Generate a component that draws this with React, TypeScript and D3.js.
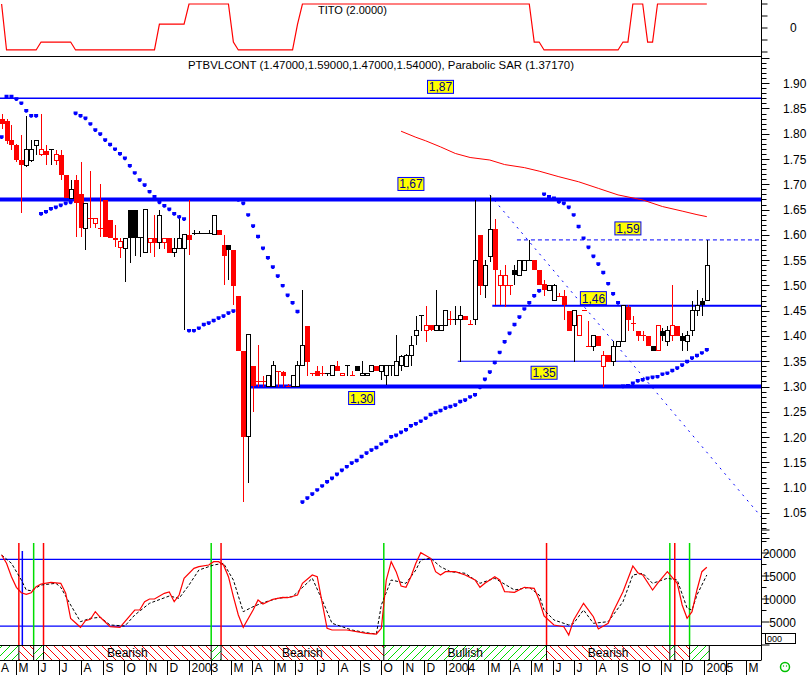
import React from "react";
import * as d3 from "d3";

// ---------------- DATA ----------------
const START = new Date(2002, 3, 10); // first weekly bar

// weekly OHLC [open, high, low, close]
const candles: [number, number, number, number][] = [
  [1.83,1.84,1.81,1.82],[1.825,1.83,1.78,1.786],[1.787,1.817,1.768,1.777],[1.777,1.78,1.745,1.748],[1.748,1.797,1.643,1.738],
  [1.737,1.835,1.735,1.768],[1.748,1.787,1.745,1.768],[1.777,1.787,1.758,1.787],[1.758,1.839,1.755,1.768],[1.766,1.777,1.738,1.758],
  [1.768,1.768,1.738,1.768],[1.748,1.768,1.738,1.758],[1.758,1.768,1.709,1.718],[1.718,1.718,1.672,1.672],[1.672,1.708,1.672,1.690],
  [1.708,1.718,1.596,1.663],[1.681,1.745,1.596,1.613],[1.613,1.663,1.570,1.663],[1.633,1.726,1.613,1.633],[1.623,1.633,1.613,1.633],
  [1.613,1.700,1.595,1.613],[1.669,1.669,1.595,1.595],[1.629,1.629,1.594,1.594],[1.594,1.62,1.575,1.59],[1.575,1.594,1.555,1.586],
  [1.573,1.593,1.507,1.593],[1.650,1.650,1.545,1.594],[1.650,1.650,1.558,1.594],[1.594,1.594,1.557,1.594],[1.565,1.650,1.565,1.650],
  [1.584,1.593,1.565,1.593],[1.593,1.639,1.557,1.584],[1.584,1.650,1.573,1.639],[1.584,1.593,1.573,1.593],[1.593,1.593,1.565,1.565],
  [1.565,1.593,1.557,1.573],[1.573,1.639,1.573,1.593],[1.573,1.600,1.412,1.600],[1.600,1.669,1.560,1.590],[1.603,1.610,1.600,1.603],
  [1.603,1.607,1.603,1.603],[1.603,1.603,1.603,1.603],[1.603,1.610,1.603,1.603],[1.600,1.639,1.600,1.639],[1.610,1.610,1.600,1.600],
  [1.580,1.600,1.501,1.558],[1.580,1.580,1.511,1.570],[1.570,1.570,1.461,1.499],[1.479,1.479,1.371,1.371],[1.371,1.371,1.072,1.201],
  [1.201,1.402,1.110,1.402],[1.341,1.341,1.250,1.301],[1.310,1.382,1.300,1.310],[1.310,1.320,1.300,1.310],[1.300,1.322,1.300,1.322],
  [1.300,1.350,1.300,1.341],[1.330,1.330,1.300,1.330],[1.329,1.330,1.300,1.321],[1.300,1.305,1.300,1.300],[1.300,1.321,1.300,1.321],
  [1.300,1.350,1.300,1.341],[1.341,1.491,1.341,1.381],[1.420,1.420,1.321,1.349],[1.326,1.326,1.321,1.326],[1.330,1.341,1.321,1.321],
  [1.326,1.341,1.321,1.326],[1.326,1.326,1.321,1.326],[1.321,1.341,1.321,1.341],[1.341,1.350,1.330,1.330],[1.321,1.326,1.321,1.326],
  [1.341,1.341,1.321,1.341],[1.321,1.330,1.321,1.321],[1.341,1.341,1.330,1.330],[1.321,1.350,1.321,1.326],[1.321,1.326,1.321,1.326],
  [1.330,1.341,1.330,1.341],[1.341,1.341,1.330,1.330],[1.330,1.341,1.313,1.341],[1.321,1.341,1.303,1.341],[1.341,1.341,1.321,1.341],
  [1.321,1.402,1.321,1.350],[1.341,1.362,1.330,1.360],[1.339,1.365,1.339,1.362],[1.362,1.400,1.340,1.382],[1.400,1.439,1.383,1.410],
  [1.440,1.440,1.410,1.440],[1.410,1.459,1.389,1.421],[1.421,1.421,1.410,1.411],[1.411,1.491,1.411,1.421],[1.411,1.421,1.411,1.421],
  [1.421,1.450,1.421,1.450],[1.432,1.450,1.421,1.432],[1.432,1.459,1.422,1.432],[1.432,1.459,1.349,1.440],[1.440,1.440,1.432,1.432],
  [1.422,1.432,1.422,1.422],[1.432,1.669,1.422,1.550],[1.600,1.600,1.481,1.499],[1.499,1.550,1.475,1.540],[1.558,1.679,1.547,1.611],
  [1.611,1.631,1.461,1.530],[1.500,1.530,1.461,1.520],[1.500,1.540,1.458,1.520],[1.500,1.500,1.481,1.500],[1.530,1.540,1.500,1.520],
  [1.520,1.550,1.520,1.550],[1.530,1.550,1.530,1.550],[1.550,1.590,1.550,1.550],[1.550,1.550,1.530,1.530],[1.530,1.530,1.500,1.500],
  [1.503,1.510,1.480,1.490],[1.489,1.500,1.489,1.500],[1.471,1.503,1.471,1.500],[1.479,1.485,1.479,1.479],[1.479,1.491,1.432,1.461],
  [1.450,1.450,1.410,1.410],[1.420,1.450,1.349,1.450],[1.400,1.440,1.400,1.440],[1.450,1.450,1.450,1.450],[1.380,1.430,1.380,1.380],
  [1.380,1.400,1.371,1.400],[1.400,1.400,1.380,1.380],[1.339,1.371,1.300,1.362],[1.362,1.362,1.349,1.349],[1.349,1.391,1.340,1.380],
  [1.380,1.390,1.380,1.390],[1.390,1.461,1.390,1.461],[1.457,1.461,1.410,1.431],[1.425,1.440,1.410,1.425],[1.410,1.410,1.390,1.400],
  [1.400,1.410,1.390,1.400],[1.400,1.400,1.380,1.380],[1.380,1.380,1.371,1.371],[1.371,1.420,1.371,1.420],[1.410,1.416,1.390,1.400],
  [1.390,1.420,1.380,1.410],[1.400,1.500,1.390,1.420],[1.420,1.420,1.400,1.400],[1.400,1.405,1.370,1.390],[1.390,1.410,1.370,1.400],
  [1.410,1.470,1.400,1.450],[1.450,1.491,1.440,1.461],[1.470,1.475,1.440,1.461],[1.470,1.590,1.470,1.540],
];

// r = red bar, k = black bar
const redFlags =
  "rrrrrkkkrr" + "krrrkrrkrr" + "rrrrrkkkkk" + "rrkrrkkkrk" + "kkkkrrkrrr" +
  "krrrkkrrrk" + "kkrrrrkkrr" + "krkkkkrkkk" + "kkkkkkrrkk" + "krkkrrkrkk" +
  "rrrrkkkkrr" + "rkkrrrkrrr" + "krrrkkkrrr" + "rrkrkkrrkk" + "kkkk";

// Parabolic SAR per bar
const sar: number[] = [
  1.793,1.873,1.873,1.868,1.860,1.845,1.835,1.835,1.641,1.645,1.651,1.654,1.658,1.662,1.664,1.840,1.835,1.830,1.819,1.807,
  1.799,1.787,1.778,1.769,1.760,1.751,1.736,1.722,1.708,1.698,1.685,1.675,1.664,1.657,1.650,1.641,1.635,1.631,1.410,1.410,
  1.415,1.422,1.425,1.430,1.435,1.439,1.445,1.449,1.669,1.662,1.639,1.617,1.596,1.573,1.554,1.536,1.518,1.499,1.480,1.465,
  1.448,1.071,1.079,1.087,1.095,1.103,1.111,1.118,1.126,1.134,1.141,1.148,1.153,1.161,1.168,1.174,1.179,1.186,1.191,1.200,
  1.203,1.209,1.214,1.222,1.226,1.231,1.237,1.244,1.248,1.252,1.257,1.260,1.263,1.270,1.273,1.279,1.283,1.298,1.314,1.328,
  1.347,1.367,1.388,1.405,1.422,1.437,1.453,1.465,1.479,1.489,1.680,1.675,1.672,1.665,1.662,1.654,1.639,1.616,1.593,1.575,
  1.557,1.542,1.525,1.503,1.483,1.465,1.300,1.301,1.306,1.311,1.313,1.316,1.318,1.319,1.324,1.326,1.331,1.336,1.342,1.349,
  1.356,1.361,1.366,1.372,
];

// long moving average [bar, value]
const maPts: [number, number][] = [
  [81,1.805],[84,1.793],[86,1.786],[89,1.774],[92,1.761],[95,1.753],[99,1.748],[102,1.739],[106,1.733],[109,1.726],
  [113,1.715],[117,1.705],[121,1.692],[125,1.679],[130,1.669],[134,1.656],[138,1.647],[141,1.640],[143,1.636],
];

// horizontal support / resistance levels
const levels: { v: number; from: number; lab: number; below: boolean; w: number; dash?: boolean }[] = [
  { v: 1.87, from: -1, lab: 89, below: false, w: 1.5 },
  { v: 1.67, from: -1, lab: 83, below: false, w: 4 },
  { v: 1.30, from: 51, lab: 73, below: true, w: 4 },
  { v: 1.46, from: 100, lab: 120, below: false, w: 2 },
  { v: 1.35, from: 93, lab: 110, below: true, w: 1 },
  { v: 1.59, from: 105, lab: 127, below: false, w: 1, dash: true },
];

// descending trend line: two anchor points [bar, value]
const trendPts: [number, number][] = [[99, 1.679], [143, 1.170]];

// oscillator (bottom panel) [bar, value]
const oscFast: [number, number][] = [
  [0,19565],[1,17760],[2,14850],[3,12540],[4,11370],[5,11020],[6,11370],[7,12670],[8,13260],[10,13630],[12,13410],[13,11240],
  [14,5800],[16,3850],[17,5280],[18,5590],[19,7240],[20,6020],[22,3980],[24,3850],[27,7610],[28,7610],[29,9410],[30,10000],
  [31,10000],[33,11240],[34,11520],[35,9410],[36,10870],[37,14500],[39,16670],[40,17020],[42,17390],[43,18110],[44,18110],
  [45,17390],[46,14850],[47,10500],[48,6520],[49,3850],[51,7610],[52,9780],[53,8910],[55,9930],[57,10370],[58,10280],[60,10870],
  [61,13410],[63,15220],[64,14850],[66,3630],[67,3260],[70,3260],[74,2540],[76,2390],[77,3630],[78,14130],[79,18110],[80,15940],
  [81,12830],[82,12540],[83,14850],[84,17760],[85,20070],[87,18850],[88,15940],[89,15220],[90,15940],[92,15940],[94,15220],
  [96,14130],[97,12540],[98,13410],[100,14850],[101,14130],[102,11590],[104,11460],[106,12540],[108,12330],[109,9780],[110,6300],
  [112,4350],[114,3980],[115,2170],[116,5440],[118,9070],[120,6150],[121,3480],[123,4720],[124,7240],[126,11590],[128,17170],
  [129,15720],[130,15220],[132,11960],[133,13410],[135,15940],[137,13410],[138,8700],[139,5800],[140,7240],[141,11960],
  [142,15940],[143,16890],
];
const oscSlow: [number, number][] = [
  [0,19565],[2,17760],[4,14130],[5,11960],[6,11800],[8,13040],[11,13410],[12,12540],[14,8700],[16,5070],[18,5800],[20,6020],
  [22,4350],[25,4130],[27,6520],[30,9070],[34,10650],[36,10150],[38,13040],[40,16300],[43,17390],[45,17760],[47,14130],
  [49,7240],[51,8330],[53,9200],[56,10150],[59,10500],[63,14500],[65,9780],[67,4720],[71,3260],[74,2670],[76,2390],[77,8700],
  [79,14130],[82,13410],[84,16300],[85,18480],[87,18850],[89,17020],[91,15940],[94,15590],[97,13410],[100,14500],[104,11960],
  [107,12540],[109,10870],[110,7610],[112,5440],[115,4350],[116,4720],[118,7610],[120,4720],[123,5070],[126,9410],[128,15220],
  [130,15590],[132,13410],[135,14500],[137,14130],[139,8000],[140,7610],[141,10870],[143,15220],
];
const oscLevels = [18600, 4100];
const oscTicks = [5000, 10000, 15000, 20000];

// signals (bar where a new state starts)
const signalBars = [4, 7, 9, 43, 45, 78, 111, 136, 137, 140];
const signalKinds = "RGRGRGRGRG"; // R = bearish, G = bullish
const blueSignalBar = 4;
const bandEndBar = 144;

// TITO indicator (top panel) [bar, value]
const titoPts: [number, number][] = [
  [0,2],[1,-1.83],[7,-1.83],[8,-1.17],[14,-1.17],[15,-1.83],[31,-1.83],[32,0.33],[37,0.33],[38,2],[46,2],[47,-1.17],
  [48,-1.83],[59,-1.83],[60,0.3],[61,2],[107,2],[108,-1.17],[109,-1.17],[110,-1.83],[125,-1.83],[126,-1.17],[127,-1.17],
  [128,2],[130,2],[131,-1.17],[132,-1.17],[133,2],[143,2],
];

const priceTicks = d3.range(100, 196).map((d) => d / 100);
const monthLetters = ["J", "F", "M", "A", "M", "J", "J", "A", "S", "O", "N", "D"];

// ---------------- CHART ----------------
const FONT = "'Liberation Sans', Arial, Helvetica, sans-serif";
const BLUE = "#0000ff";
const RED = "#ff0000";
const GREEN = "#00dd00";

export default function App() {
  const AX = 761.5; // right axis
  const xt = d3.scaleTime().domain([new Date(2003, 0, 1), new Date(2005, 0, 1)]).range([189, 704]);
  const dateOf = (k: number) => d3.timeDay.offset(START, 7 * k);
  const xk = (k: number) => xt(dateOf(k));
  const xHalf = (k: number) => xt(new Date(dateOf(k).getTime() - 3.5 * 864e5));

  const y = d3.scaleLinear().domain([1.0, 1.95]).range([538.2, 57.9]);
  const yo = d3.scaleLinear().domain([0, 20000]).range([645, 553]);
  const yt = d3.scaleLinear().domain([-2, 2]).range([52, 4]);

  const maLine = d3.line<[number, number]>().x((d) => xk(d[0])).y((d) => y(d[1]));
  const oscLine = d3.line<[number, number]>().x((d) => xk(d[0])).y((d) => yo(d[1]));
  const titoLine = d3.line<[number, number]>().x((d) => xk(d[0])).y((d) => yt(d[1]));

  const [t0, t1] = trendPts;
  const tx0 = xk(t0[0]), ty0 = y(t0[1]);
  const slope = (y(t1[1]) - ty0) / (xk(t1[0]) - tx0);
  const tyEnd = ty0 + slope * (AX - tx0);

  const months = d3.timeMonth.range(new Date(2002, 3, 1), new Date(2005, 3, 1)).filter((d) => xt(d) < AX);

  const bounds = [0, ...signalBars, bandEndBar];
  const segs = bounds.slice(0, -1).map((b, i) => {
    const kind = i === 0 ? "G" : signalKinds[i - 1];
    const xa = i === 0 ? 0 : xHalf(b);
    const xb = xHalf(bounds[i + 1]);
    return { kind, xa, xb };
  });

  return (
    <svg width={810} height={675} style={{ position: "absolute", left: 0, top: 0, background: "#fff" }}
      fontFamily={FONT}>
      <defs>
        <pattern id="hatchR" width="8" height="8" patternUnits="userSpaceOnUse">
          <path d="M0,0 L8,8 M-2,6 L2,10 M6,-2 L10,2" stroke={RED} strokeWidth="1" />
        </pattern>
        <pattern id="hatchG" width="8" height="8" patternUnits="userSpaceOnUse">
          <path d="M0,8 L8,0 M-2,2 L2,-2 M6,10 L10,6" stroke={GREEN} strokeWidth="1" />
        </pattern>
        <clipPath id="mainClip"><rect x={0} y={57} width={AX} height={485} /></clipPath>
        <clipPath id="topClip"><rect x={0} y={0} width={AX} height={56} /></clipPath>
      </defs>
      <rect x={0} y={0} width={810} height={675} fill="#fff" />

      {/* ---------- TOP PANEL (TITO) ---------- */}
      <g clipPath="url(#topClip)">
        <path d={titoLine(titoPts) || ""} fill="none" stroke={RED} strokeWidth={1.2} />
      </g>
      <text x={318} y={14} fontSize={11} fill="#000">TITO (2.0000)</text>
      <line x1={0} x2={AX} y1={56.5} y2={56.5} stroke="#000" />
      {[-2, -1, 0, 1, 2].map((v) => (
        <line key={v} x1={AX} x2={AX + 6} y1={yt(v)} y2={yt(v)} stroke="#000" />
      ))}
      <text x={790} y={yt(0) + 4} fontSize={12} fill="#000">0</text>

      {/* ---------- MAIN PANEL ---------- */}
      <text x={188} y={69} fontSize={11} fill="#000" textLength={386} lengthAdjust="spacingAndGlyphs">
        PTBVLCONT (1.47000,1.59000,1.47000,1.54000), Parabolic SAR (1.37170)
      </text>
      <g clipPath="url(#mainClip)">
        {levels.map((l, i) => (
          <line key={i} x1={l.from < 0 ? 0 : xHalf(l.from)} x2={AX} y1={y(l.v)} y2={y(l.v)}
            stroke={BLUE} strokeWidth={l.w} strokeDasharray={l.dash ? "4 3" : undefined} />
        ))}
        <path d={maLine(maPts) || ""} fill="none" stroke={RED} strokeWidth={1} />
        <line x1={tx0} y1={ty0} x2={AX} y2={tyEnd} stroke={BLUE} strokeWidth={1} strokeDasharray="2 5" />
        {candles.map(([o, h, l, c], k) => {
          const x = Math.round(xk(k)) + 0.5;
          const col = redFlags[k] === "r" ? RED : "#000";
          const yO = y(o), yC = y(c);
          const top = Math.min(yO, yC), bot = Math.max(yO, yC);
          let body;
          if (bot - top < 1.2) {
            body = <line x1={x - 2.5} x2={x + 2.5} y1={top} y2={top} stroke={col} strokeWidth={1} />;
          } else if (c < o) {
            body = <rect x={x - 2.5} y={top} width={5} height={bot - top} fill={col} />;
          } else {
            body = <rect x={x - 2} y={top} width={4} height={bot - top} fill="#fff" stroke={col} strokeWidth={1} />;
          }
          return (
            <g key={k} shapeRendering="crispEdges">
              <line x1={x} x2={x} y1={y(h)} y2={y(l)} stroke={col} strokeWidth={1} />
              {body}
            </g>
          );
        })}
        {sar.map((v, k) => {
          const x = xk(k), yy = y(v);
          return <path key={k} d={`M${x - 2},${yy - 2} h4 v2.5 l-1.2,1.2 h-1.6 l-1.2,-1.2 z`} fill={BLUE} />;
        })}
      </g>
      {levels.map((l, i) => {
        const cx = xk(l.lab);
        const by = l.below ? y(l.v) + 5 : y(l.v) - (l.w > 2 ? 22 : l.w > 1.5 ? 14 : 18);
        return (
          <g key={i}>
            <rect x={cx - 13} y={by} width={26} height={13} fill="#ffff00" stroke={BLUE} strokeWidth={1} />
            <text x={cx} y={by + 11} fontSize={12} textAnchor="middle" fill="#000080">
              {l.v.toFixed(2).replace(".", ",")}
            </text>
          </g>
        );
      })}

      {/* price axis */}
      <line x1={AX} x2={AX} y1={0} y2={660} stroke="#000" />
      {priceTicks.map((v) => {
        const major = Math.round(v * 100) % 5 === 0;
        return (
          <g key={v}>
            <line x1={AX} x2={AX + (major ? 8 : 5)} y1={Math.round(y(v)) + 0.5} y2={Math.round(y(v)) + 0.5} stroke="#000" />
            {major && v >= 1.05 && v <= 1.9 && (
              <text x={783} y={y(v) + 4.5} fontSize={12} fill="#000">{v.toFixed(2)}</text>
            )}
          </g>
        );
      })}

      {/* ---------- OSCILLATOR PANEL ---------- */}
      {oscLevels.map((v) => (
        <line key={v} x1={0} x2={AX} y1={yo(v)} y2={yo(v)} stroke={BLUE} strokeWidth={1.2} />
      ))}
      {signalBars.map((b, i) => (
        <line key={i} x1={xHalf(b)} x2={xHalf(b)} y1={543} y2={645}
          stroke={signalKinds[i] === "R" ? RED : GREEN} strokeWidth={1.5} />
      ))}
      <line x1={xk(blueSignalBar) + 1} x2={xk(blueSignalBar) + 1} y1={551} y2={645} stroke={BLUE} strokeWidth={1.5} />
      <path d={oscLine(oscSlow) || ""} fill="none" stroke="#000" strokeWidth={1} strokeDasharray="3 2" />
      <path d={oscLine(oscFast) || ""} fill="none" stroke={RED} strokeWidth={1.2} />
      {d3.range(0, 25001, 2500).map((v) => (
        <line key={v} x1={AX} x2={AX + (v % 5000 === 0 ? 8 : 5)} y1={yo(v)} y2={yo(v)} stroke="#000" />
      ))}
      {oscTicks.map((v) => (
        <text key={v} x={796} y={yo(v) + 4.5} fontSize={12} textAnchor="end" fill="#000">{v}</text>
      ))}
      <rect x={765.5} y={633.5} width={30} height={10} fill="#fff" stroke="#000" />
      <text x={767} y={642} fontSize={9} fill="#000">000</text>

      {/* signal band */}
      {segs.map((s, i) => (
        <g key={i}>
          <rect x={s.xa} y={645} width={s.xb - s.xa} height={15} fill={s.kind === "R" ? "url(#hatchR)" : "url(#hatchG)"} />
          <line x1={s.xb} x2={s.xb} y1={645} y2={660} stroke="#000" />
          {s.xb - s.xa > 60 && (
            <text x={(s.xa + s.xb) / 2} y={657} fontSize={12} textAnchor="middle" fill="#000">
              {s.kind === "R" ? "Bearish" : "Bullish"}
            </text>
          )}
        </g>
      ))}
      <line x1={0} x2={AX} y1={645.5} y2={645.5} stroke="#000" />
      <line x1={0} x2={AX} y1={660.5} y2={660.5} stroke="#000" />

      {/* time axis */}
      {months.map((d, i) => {
        const x = Math.round(xt(d)) + 0.5;
        const m = d.getMonth();
        const label = m === 0 ? String(d.getFullYear()) : m === 1 ? "" : monthLetters[m];
        return (
          <g key={i}>
            {x > 2 && <line x1={x} x2={x} y1={660} y2={675} stroke="#000" />}
            {label && <text x={Math.max(x + 2, 1)} y={672} fontSize={12} fill="#000">{label}</text>}
          </g>
        );
      })}

      {/* status icon */}
      <circle cx={785} cy={667} r={4.5} fill="none" stroke="#00c000" strokeWidth={1.5} />
      <circle cx={783.5} cy={666} r={0.7} fill="#00c000" />
      <circle cx={786.5} cy={666} r={0.7} fill="#00c000" />
    </svg>
  );
}
